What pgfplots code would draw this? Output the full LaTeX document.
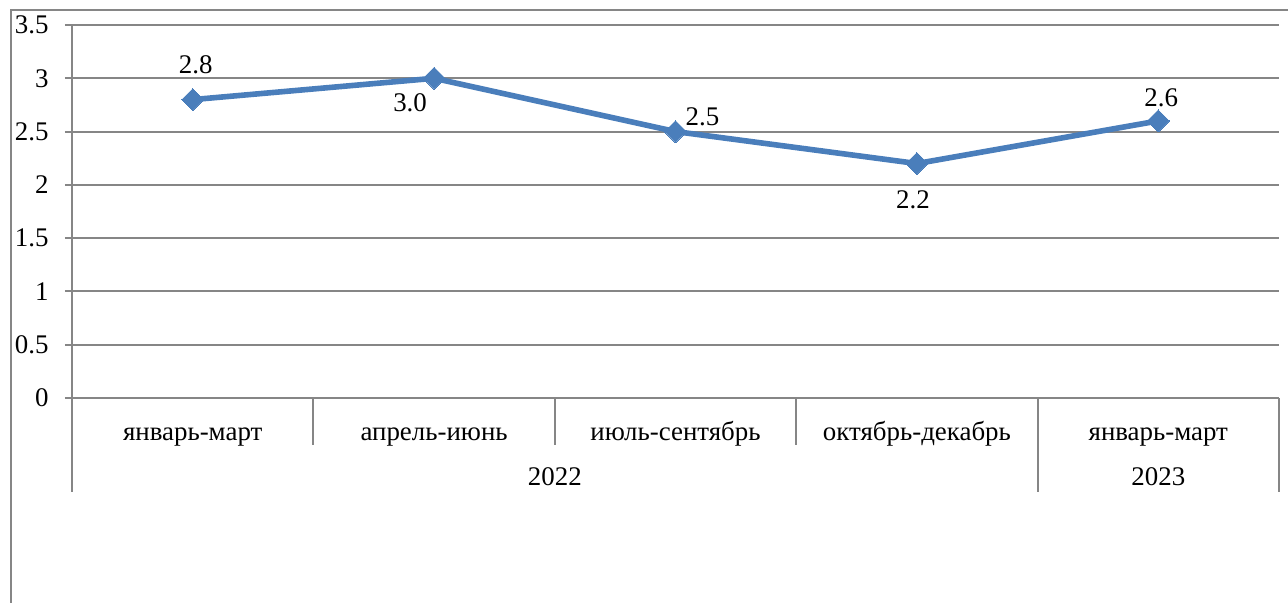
\documentclass[border=0pt]{standalone}
\usepackage{fontspec}
\setmainfont{Liberation Serif}
\usepackage{pgfplots}
\usepackage{pgfplotstable}
\pgfplotsset{compat=1.18}

\definecolor{gridgray}{RGB}{134,134,134}
\definecolor{lineblue}{RGB}{74,126,187}

% x, value, label shift (bp)
\pgfplotstableread{
x y dx dy
0 2.8 1.5 17.5
1 3.0 -12 -12
2 2.5 13.5 7.5
3 2.2 -2 -18
4 2.6 1.5 11.5
}\datatable

\begin{document}
\begin{tikzpicture}
\path[use as bounding box] (-36bp,-102.5bp) rectangle (608bp,199bp);
\clip (-36bp,-102.5bp) rectangle (608bp,199bp);
% outer frame
\draw[gridgray, line width=1bp] (-30.5bp,-150bp) -- (-30.5bp,194bp) -- (700bp,194bp);
\begin{axis}[
    at={(0,0)}, anchor=south west,
    scale only axis, width=603.5bp, height=186.5bp,
    xmin=-0.5, xmax=4.5, ymin=0, ymax=3.5,
    ytick={0,0.5,1,1.5,2,2.5,3,3.5},
    xtick={0,1,2,3,4},
    xticklabels={январь-март, апрель-июнь, июль-сентябрь, октябрь-декабрь, январь-март},
    axis line style={draw=none},
    ymajorgrids, grid style={gridgray, line width=1bp},
    tick align=outside, major tick length=3.5bp,
    ytick pos=left,
    ytick style={gridgray, line width=1bp},
    xtick style={draw=none},
    clip=false,
    tick label style={font=\fontsize{13.5}{15}\selectfont},
    yticklabel style={inner sep=0pt, anchor=east, xshift=-8bp},
    xticklabel style={inner sep=0pt, anchor=base, yshift=-17.5bp},
    /pgf/number format/assume math mode=true,
    nodes near coords={\pgfmathprintnumber[fixed,fixed zerofill,precision=1,assume math mode=true]{\pgfplotspointmeta}},
    nodes near coords style={black, font=\fontsize{13.5}{15}\selectfont, anchor=center, inner sep=0pt, xshift=\dx bp, yshift=\dy bp},
    visualization depends on={\thisrow{dx} \as \dx},
    visualization depends on={\thisrow{dy} \as \dy},
  ]
  \addplot[lineblue, line width=2.8bp, mark=square*, mark size=3.9bp,
           mark options={rotate=45, fill=lineblue, draw=lineblue, line width=0pt}]
    table[x=x, y=y] {\datatable};

  % axis line and category separators
  \draw[gridgray, line width=1bp] (axis cs:-0.5,3.5) -- ([yshift=-47bp]axis cs:-0.5,0);
  \draw[gridgray, line width=1bp] (axis cs:-0.5,0) -- (axis cs:4.5,0);
  \draw[gridgray, line width=1bp] (axis cs:0.5,0) -- ([yshift=-23.5bp]axis cs:0.5,0);
  \draw[gridgray, line width=1bp] (axis cs:1.5,0) -- ([yshift=-23.5bp]axis cs:1.5,0);
  \draw[gridgray, line width=1bp] (axis cs:2.5,0) -- ([yshift=-23.5bp]axis cs:2.5,0);
  \draw[gridgray, line width=1bp] (axis cs:3.5,0) -- ([yshift=-47bp]axis cs:3.5,0);
  \draw[gridgray, line width=1bp] (axis cs:4.5,0) -- ([yshift=-47bp]axis cs:4.5,0);

  % second level of category labels
  \node[anchor=base, inner sep=0pt, font=\fontsize{13.5}{15}\selectfont] at ([yshift=-43.5bp]axis cs:1.5,0) {2022};
  \node[anchor=base, inner sep=0pt, font=\fontsize{13.5}{15}\selectfont] at ([yshift=-43.5bp]axis cs:4,0) {2023};
\end{axis}
\end{tikzpicture}
\end{document}
